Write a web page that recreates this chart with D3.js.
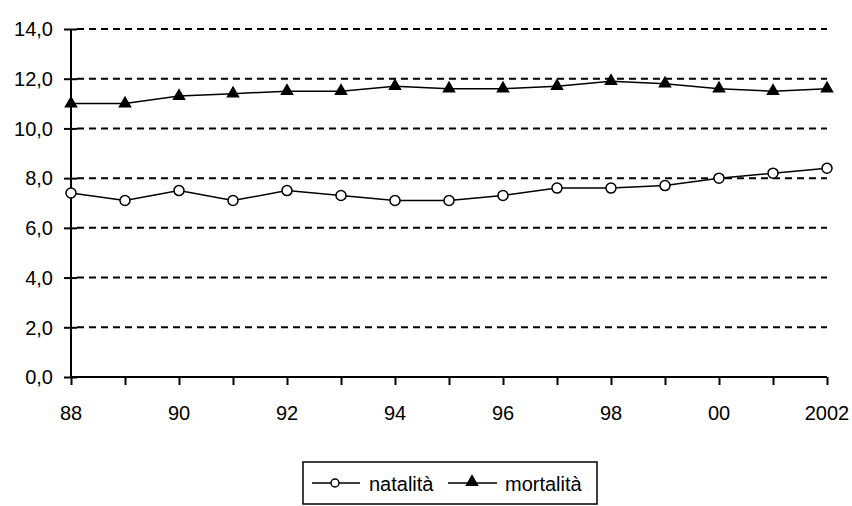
<!DOCTYPE html>
<html><head><meta charset="utf-8">
<script src="https://cdn.jsdelivr.net/npm/d3@7"></script>
<style>html,body{margin:0;padding:0;background:#fff;}svg{display:block;}</style>
</head><body>
<svg id="c" width="852" height="506"></svg>
<script>
const years = [1988,1989,1990,1991,1992,1993,1994,1995,1996,1997,1998,1999,2000,2001,2002];
const natalita = [7.4,7.1,7.5,7.1,7.5,7.3,7.1,7.1,7.3,7.6,7.6,7.7,8.0,8.2,8.4];
const mortalita = [11.0,11.0,11.3,11.4,11.5,11.5,11.7,11.6,11.6,11.7,11.9,11.8,11.6,11.5,11.6];
const yTicks = [0,2,4,6,8,10,12,14];
const xLabelYears = [1988,1990,1992,1994,1996,1998,2000,2002];
const xLabels = ["88","90","92","94","96","98","00","2002"];
const seriesNames = ["natalità","mortalità"];

const svg = d3.select("#c");
const font = "'Liberation Sans', Arial, sans-serif";
const fs = 20;
const x = d3.scaleLinear().domain([1988,2002]).range([71,827]);
const y = d3.scaleLinear().domain([0,14]).range([377,29]);

// gridlines
svg.append("g").selectAll("line").data(yTicks.filter(d=>d>0)).join("line")
  .attr("x1",x(1988)+6).attr("x2",x(2002)).attr("y1",d=>y(d)).attr("y2",d=>y(d))
  .attr("stroke","#000").attr("stroke-width",2).attr("stroke-dasharray","7,5");

// y axis
const yAxis = d3.axisLeft(y).tickValues(yTicks).tickSize(7).tickPadding(11)
  .tickFormat(d=>d3.format(".1f")(d).replace(".",","));
const gy = svg.append("g").attr("transform",`translate(${x(1988)},0)`).call(yAxis);
gy.select(".domain").attr("stroke","#000").attr("stroke-width",2).attr("d",`M0,${y(0)}V${y(14)}`);
gy.selectAll(".tick line").attr("stroke","#000").attr("stroke-width",2).attr("x1",6);
gy.selectAll("text").attr("font-family",font).attr("font-size",fs).attr("fill","#000").attr("dy","0.34em");

// x axis
const xAxis = d3.axisBottom(x).tickValues(years).tickSize(8).tickFormat(()=> "");
const gx = svg.append("g").attr("transform",`translate(0,${y(0)})`).call(xAxis);
gx.select(".domain").attr("stroke","#000").attr("stroke-width",2).attr("d",`M${x(1988)},0H${x(2002)}`);
gx.selectAll(".tick line").attr("stroke","#000").attr("stroke-width",2);
svg.append("g").selectAll("text").data(xLabelYears).join("text")
  .attr("x",d=>x(d)).attr("y",420).attr("text-anchor","middle")
  .attr("font-family",font).attr("font-size",fs).attr("fill","#000")
  .text((d,i)=>xLabels[i]);

// lines
const line = d3.line().x((d,i)=>x(years[i])).y(d=>y(d));
svg.append("path").datum(natalita).attr("d",line).attr("fill","none").attr("stroke","#000").attr("stroke-width",1.5);
svg.append("path").datum(mortalita).attr("d",line).attr("fill","none").attr("stroke","#000").attr("stroke-width",1.5);

const tri = d3.symbol().type(d3.symbolTriangle).size(80);
svg.append("g").selectAll("path").data(mortalita).join("path")
  .attr("d",tri).attr("transform",(d,i)=>`translate(${x(years[i])},${y(d)})`).attr("fill","#000");
svg.append("g").selectAll("circle").data(natalita).join("circle")
  .attr("cx",(d,i)=>x(years[i])).attr("cy",d=>y(d)).attr("r",5)
  .attr("fill","#fff").attr("stroke","#000").attr("stroke-width",1.5);

// legend
const lg = svg.append("g");
lg.append("rect").attr("x",303).attr("y",462).attr("width",294).attr("height",42)
  .attr("fill","#fff").attr("stroke","#000").attr("stroke-width",1.5);
lg.append("line").attr("x1",312).attr("x2",360).attr("y1",483).attr("y2",483).attr("stroke","#000").attr("stroke-width",1.5);
lg.append("circle").attr("cx",335).attr("cy",483).attr("r",4).attr("fill","#fff").attr("stroke","#000").attr("stroke-width",1.5);
lg.append("text").attr("x",369).attr("y",491).attr("font-family",font).attr("font-size",fs).text(seriesNames[0]);
lg.append("line").attr("x1",448).attr("x2",497).attr("y1",483).attr("y2",483).attr("stroke","#000").attr("stroke-width",1.5);
lg.append("path").attr("d",tri).attr("transform","translate(472,482)").attr("fill","#000");
lg.append("text").attr("x",505).attr("y",491).attr("font-family",font).attr("font-size",fs).text(seriesNames[1]);
</script>
</body></html>
